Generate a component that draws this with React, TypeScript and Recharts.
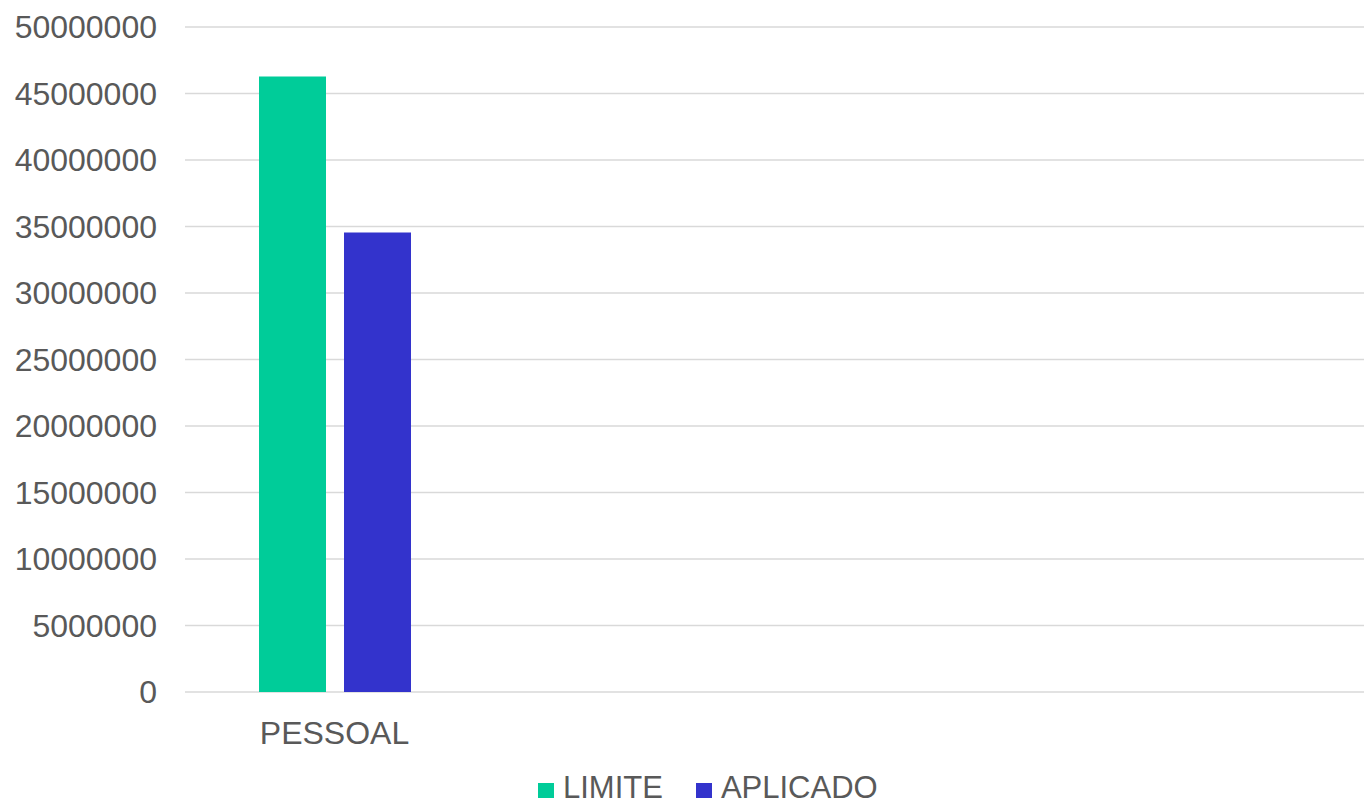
import { BarChart, Bar, XAxis, YAxis, CartesianGrid, Legend } from "recharts";

// values
const categories = ["PESSOAL"];
const seriesNames = ["LIMITE", "APLICADO"];
const limite = [46270000];
const aplicado = [34540000];
const yTicks = [0, 5000000, 10000000, 15000000, 20000000, 25000000, 30000000, 35000000, 40000000, 45000000, 50000000];

const data = categories.map((name, i) => ({
  name,
  LIMITE: limite[i],
  APLICADO: aplicado[i],
}));

const FONT = '"Liberation Sans", Arial, sans-serif';
const TEXT = "#595959";

function LegendContent(props: any) {
  const payload = props.payload || [];
  // keep the series order (recharts sorts legend items by name)
  const items = seriesNames
    .map((n) => payload.find((p: any) => p.value === n))
    .filter(Boolean);
  return (
    <div
      style={{
        height: 51,
        paddingTop: 18,
        paddingLeft: 538,
        boxSizing: "border-box",
        fontFamily: FONT,
        fontSize: 31,
        lineHeight: "36px",
        color: TEXT,
        whiteSpace: "nowrap",
      }}
    >
      {items.map((item: any, i: number) => (
        <span key={item.value} style={{ marginLeft: i === 0 ? 0 : 33 }}>
          <span
            style={{
              display: "inline-block",
              width: 16,
              height: 15,
              background: item.color,
              marginRight: 9,
              verticalAlign: "baseline",
            }}
          />
          {item.value}
        </span>
      ))}
    </div>
  );
}

export default function App() {
  return (
    <div style={{ position: "absolute", left: 0, top: 0, width: 1364, height: 803, background: "#fff" }}>
      <BarChart
        width={1364}
        height={803}
        data={data}
        margin={{ top: 27, right: 0, bottom: 0, left: 0 }}
        barSize={67}
        barGap={18}
      >
        <CartesianGrid vertical={false} stroke="#d9d9d9" strokeWidth={1.5} />
        <XAxis
          dataKey="name"
          height={60}
          padding={{ left: 0, right: 880 }}
          axisLine={false}
          tickLine={false}
          tickSize={8}
          tickMargin={21}
          tick={{ fontSize: 32, fill: TEXT, fontFamily: FONT }}
        />
        <YAxis
          width={185}
          domain={[0, 50000000]}
          ticks={yTicks}
          interval={0}
          axisLine={false}
          tickLine={false}
          tickSize={8}
          tickMargin={20}
          tick={{ fontSize: 32, fill: TEXT, fontFamily: FONT }}
        />
        <Legend verticalAlign="bottom" height={51} content={<LegendContent />} />
        <Bar dataKey="LIMITE" fill="#00CC99" isAnimationActive={false} />
        <Bar dataKey="APLICADO" fill="#3333CC" isAnimationActive={false} />
      </BarChart>
    </div>
  );
}
